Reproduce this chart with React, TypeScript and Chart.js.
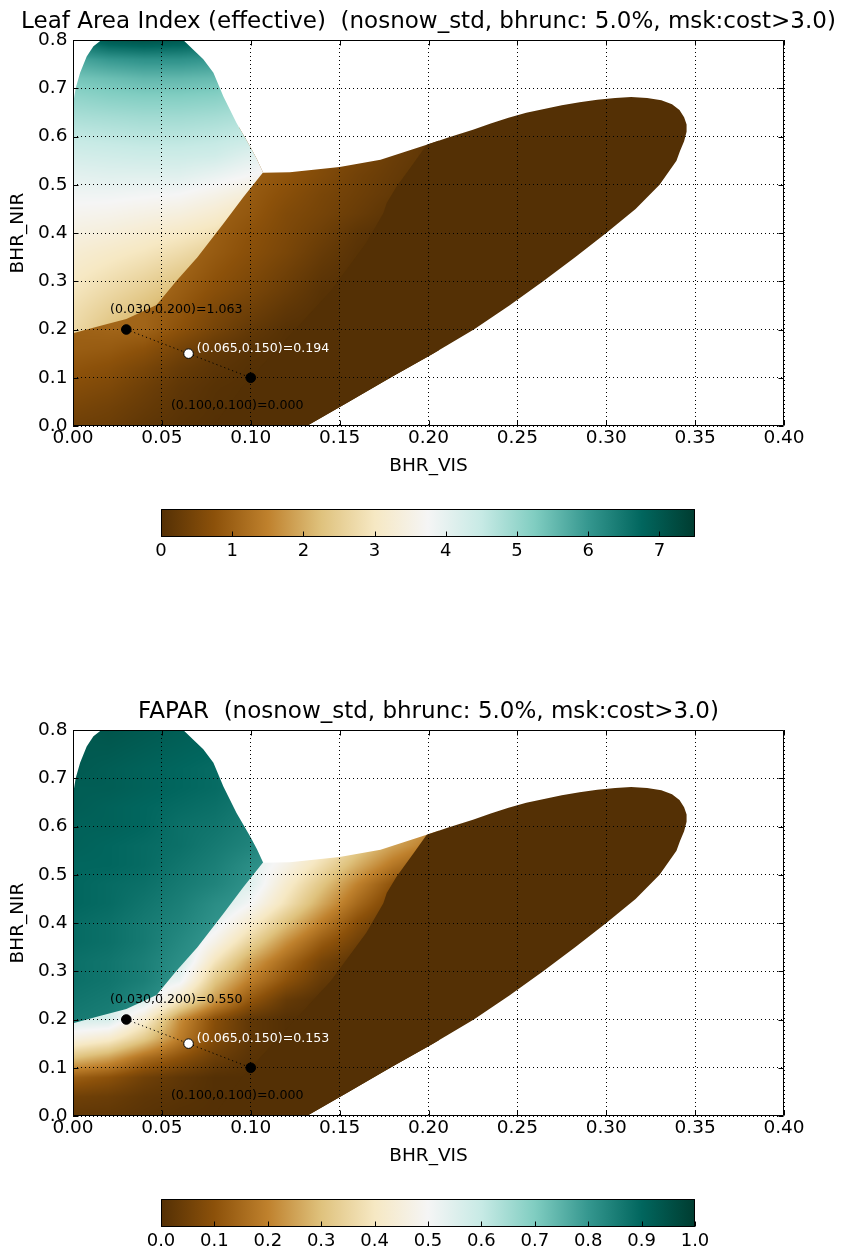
import React, { useEffect, useRef } from 'react';
import { Chart, registerables } from 'chart.js';

Chart.register(...registerables);

const FONT_FAMILY = '"DejaVu Sans", "Liberation Sans", Arial, sans-serif';
const _ = NaN;

// ---------------- axes / ticks ----------------
const X_TICKS = [0, 0.05, 0.1, 0.15, 0.2, 0.25, 0.3, 0.35, 0.4];
const Y_TICKS = [0, 0.1, 0.2, 0.3, 0.4, 0.5, 0.6, 0.7, 0.8];
const LAI_BAR_TICKS = [0, 1, 2, 3, 4, 5, 6, 7];
const FAPAR_BAR_TICKS = [0, 0.1, 0.2, 0.3, 0.4, 0.5, 0.6, 0.7, 0.8, 0.9, 1.0];

// ---------------- sample points ----------------
const SAMPLE_VIS = [0.03, 0.065, 0.1];
const SAMPLE_NIR = [0.2, 0.15, 0.1];
const LAI_AT_SAMPLES = [1.063, 0.194, 0.0];
const FAPAR_AT_SAMPLES = [0.55, 0.153, 0.0];

// ---------------- valid-retrieval region (BHR_VIS, BHR_NIR) ----------------
const MASK_OUTLINE: [number, number][] = [
  [-0.01, -0.01], [0.127, -0.01], [0.1315, 0.0], [0.155, 0.05], [0.1785, 0.1], [0.2025, 0.15],
  [0.2255, 0.2], [0.2455, 0.25], [0.2645, 0.3], [0.2825, 0.35], [0.3, 0.4], [0.3165, 0.45],
  [0.33, 0.5], [0.3395, 0.55], [0.3415, 0.57], [0.3438, 0.59], [0.3452, 0.61], [0.3452, 0.625],
  [0.3438, 0.64], [0.3412, 0.655], [0.337, 0.667], [0.331, 0.675], [0.323, 0.68], [0.314, 0.682],
  [0.305, 0.68], [0.295, 0.676], [0.285, 0.671], [0.275, 0.665], [0.265, 0.657], [0.255, 0.649],
  [0.245, 0.639], [0.235, 0.627], [0.225, 0.614], [0.212, 0.599], [0.199, 0.583], [0.173, 0.552],
  [0.15, 0.537], [0.122, 0.526], [0.107, 0.525], [0.1035, 0.553], [0.0996, 0.58], [0.092, 0.628],
  [0.0846, 0.683], [0.079, 0.732], [0.0733, 0.76], [0.0677, 0.78], [0.062, 0.8], [0.06, 0.82],
  [0.016, 0.82], [0.016, 0.8], [0.0115, 0.787], [0.0077, 0.766], [0.004, 0.732], [0.0015, 0.7],
  [0.0005, 0.677], [0.0, 0.66], [-0.01, 0.66],
];
// upper-left branch (above the discontinuity)
const UPPER_BRANCH_OUTLINE: [number, number][] = [
  [-0.01, 0.19], [0.0, 0.192], [0.015, 0.207], [0.03, 0.222], [0.047, 0.251], [0.058, 0.3],
  [0.07, 0.35], [0.085, 0.421], [0.096, 0.475], [0.107, 0.526], [0.107, 0.9], [-0.01, 0.9],
];
// right part where the retrieval saturates at zero
const ZERO_BRANCH_OUTLINE: [number, number][] = [
  [0.204, 0.64], [0.199, 0.583], [0.1915, 0.544], [0.182, 0.496], [0.1765, 0.462], [0.1746, 0.441],
  [0.165, 0.38], [0.145, 0.28], [0.12, 0.18], [0.095, 0.08], [0.075, -0.02], [0.5, -0.02],
  [0.5, 0.9], [0.204, 0.9],
];

// ---------------- field samples ----------------
const UPPER_GRID_VIS = [0, 0.02, 0.04, 0.06, 0.08, 0.1, 0.12];
const UPPER_GRID_NIR = [0.8, 0.76, 0.72, 0.68, 0.64, 0.6, 0.56, 0.52, 0.48, 0.44, 0.4, 0.36, 0.32, 0.28, 0.24, 0.2, 0.16];
const LOWER_GRID_VIS = [0, 0.02, 0.04, 0.06, 0.08, 0.1, 0.12, 0.14, 0.16, 0.18, 0.2];
const LOWER_GRID_NIR = [0.6, 0.56, 0.52, 0.48, 0.44, 0.4, 0.36, 0.32, 0.28, 0.24, 0.2, 0.16, 0.12, 0.08, 0.04, 0.0];

const LAI_UPPER = [
  [6.6, 7.0, 7.1, 7.0, 6.8, _, _],
  [5.8, 6.0, 6.1, 6.1, 6.0, 5.8, _],
  [5.35, 5.45, 5.55, 5.55, 5.5, 5.3, _],
  [5.05, 5.15, 5.2, 5.2, 5.15, 5.0, 4.8],
  [4.8, 4.85, 4.9, 4.9, 4.85, 4.75, 4.6],
  [4.55, 4.6, 4.65, 4.65, 4.6, 4.5, 4.35],
  [4.3, 4.35, 4.4, 4.4, 4.35, 4.1, 4.0],
  [4.05, 4.1, 4.1, 4.1, 3.95, 3.75, 3.5],
  [3.85, 3.85, 3.8, 3.75, 3.55, 3.3, 3.0],
  [3.65, 3.6, 3.5, 3.4, 3.2, 2.9, 2.6],
  [3.45, 3.35, 3.2, 3.05, 2.85, 2.5, _],
  [3.25, 3.1, 2.95, 2.75, 2.5, 2.2, _],
  [3.1, 2.9, 2.7, 2.45, 2.2, _, _],
  [2.95, 2.7, 2.45, 2.15, 1.9, _, _],
  [2.8, 2.5, 2.2, 1.9, _, _, _],
  [2.7, 2.3, 1.9, _, _, _, _],
  [2.6, 2.2, _, _, _, _, _],
];
const LAI_LOWER = [
  [_, _, _, _, _, _, 0.8, 0.6, 0.45, 0.3, 0.15],
  [_, _, _, _, _, 1.0, 0.85, 0.65, 0.5, 0.3, 0.15],
  [_, _, _, _, 1.05, 0.95, 0.8, 0.6, 0.4, 0.25, 0.1],
  [_, _, _, _, 1.05, 0.9, 0.7, 0.5, 0.35, 0.2, 0.05],
  [_, _, _, 1.1, 1.0, 0.85, 0.6, 0.45, 0.28, 0.1, 0],
  [_, _, _, 1.15, 0.95, 0.75, 0.55, 0.35, 0.12, 0, 0],
  [_, _, _, 1.1, 0.9, 0.7, 0.5, 0.25, 0.06, 0, 0],
  [_, _, 1.2, 1.05, 0.8, 0.6, 0.38, 0.15, 0.02, 0, 0],
  [_, _, 1.2, 0.95, 0.7, 0.5, 0.28, 0.06, 0, 0, 0],
  [_, 1.15, 1.05, 0.85, 0.55, 0.35, 0.15, 0.02, 0, 0, 0],
  [1.0, 1.05, 1.05, 0.75, 0.45, 0.2, 0.03, 0, 0, 0, 0],
  [0.95, 0.9, 0.75, 0.45, 0.2, 0.06, 0, 0, 0, 0, 0],
  [0.8, 0.7, 0.5, 0.25, 0.1, 0.02, 0, 0, 0, 0, 0],
  [0.65, 0.55, 0.35, 0.15, 0.04, 0, 0, 0, 0, 0, 0],
  [0.5, 0.4, 0.25, 0.1, 0.02, 0, 0, 0, 0, 0, 0],
  [0.35, 0.3, 0.15, 0.05, 0, 0, 0, 0, 0, 0, 0],
];
const FAPAR_UPPER = [
  [0.93, 0.94, 0.93, 0.92, 0.91, _, _],
  [0.93, 0.93, 0.92, 0.91, 0.9, 0.89, _],
  [0.93, 0.92, 0.91, 0.9, 0.89, 0.88, _],
  [0.92, 0.92, 0.91, 0.9, 0.89, 0.87, 0.85],
  [0.92, 0.91, 0.9, 0.89, 0.88, 0.86, 0.84],
  [0.91, 0.91, 0.9, 0.88, 0.87, 0.85, 0.83],
  [0.91, 0.9, 0.89, 0.88, 0.86, 0.84, 0.82],
  [0.9, 0.9, 0.89, 0.87, 0.85, 0.82, 0.8],
  [0.9, 0.89, 0.88, 0.86, 0.84, 0.81, 0.79],
  [0.9, 0.89, 0.87, 0.85, 0.82, 0.8, 0.78],
  [0.89, 0.88, 0.86, 0.84, 0.81, 0.79, _],
  [0.89, 0.88, 0.86, 0.83, 0.8, 0.78, _],
  [0.88, 0.87, 0.85, 0.82, 0.8, _, _],
  [0.88, 0.87, 0.85, 0.81, 0.79, _, _],
  [0.87, 0.86, 0.83, 0.8, _, _, _],
  [0.86, 0.85, 0.82, _, _, _, _],
  [0.86, 0.85, _, _, _, _, _],
];
const FAPAR_LOWER = [
  [_, _, _, _, _, _, 0.52, 0.46, 0.38, 0.3, 0.23],
  [_, _, _, _, _, 0.56, 0.5, 0.43, 0.33, 0.25, 0.19],
  [_, _, _, _, 0.56, 0.55, 0.47, 0.37, 0.27, 0.18, 0.11],
  [_, _, _, _, 0.58, 0.55, 0.42, 0.31, 0.2, 0.1, 0.04],
  [_, _, _, 0.58, 0.58, 0.5, 0.38, 0.26, 0.15, 0.06, 0],
  [_, _, _, 0.58, 0.53, 0.42, 0.3, 0.19, 0.09, 0.02, 0],
  [_, _, _, 0.58, 0.47, 0.34, 0.22, 0.12, 0.05, 0, 0],
  [_, _, 0.58, 0.58, 0.39, 0.25, 0.15, 0.06, 0.01, 0, 0],
  [_, _, 0.56, 0.52, 0.31, 0.19, 0.1, 0.03, 0, 0, 0],
  [_, 0.56, 0.56, 0.4, 0.24, 0.11, 0.03, 0, 0, 0, 0],
  [0.57, 0.57, 0.43, 0.22, 0.09, 0.02, 0, 0, 0, 0, 0],
  [0.46, 0.42, 0.32, 0.19, 0.08, 0.02, 0, 0, 0, 0, 0],
  [0.3, 0.25, 0.16, 0.1, 0.04, 0.01, 0, 0, 0, 0, 0],
  [0.13, 0.1, 0.05, 0.02, 0, 0, 0, 0, 0, 0, 0],
  [0.05, 0.04, 0.02, 0.01, 0, 0, 0, 0, 0, 0, 0],
  [0.02, 0.02, 0.01, 0, 0, 0, 0, 0, 0, 0, 0],
];

// ---------------- styling ----------------
const BRBG: [number, number, number][] = [
  [84, 48, 5], [140, 81, 10], [191, 129, 45], [223, 194, 125], [246, 232, 195], [245, 245, 245],
  [199, 234, 229], [128, 205, 193], [53, 151, 143], [1, 102, 94], [0, 60, 48],
];
const SAMPLE_FILL = ['#000000', '#ffffff', '#000000'];
const SAMPLE_TEXT = ['#000000', '#ffffff', '#000000'];
const SAMPLE_TEXT_OFFSET: [number, number][] = [[-16.3, -19.5], [8.2, -4.6], [-79.8, 28]];
const TICK_FONT = 18.5;
const INNER_TICK = 5;

function cmap(t: number): [number, number, number] {
  const c = Math.min(1, Math.max(0, t)) * (BRBG.length - 1);
  const i = Math.min(Math.floor(c), BRBG.length - 2);
  const f = c - i;
  const a = BRBG[i];
  const b = BRBG[i + 1];
  return [a[0] + (b[0] - a[0]) * f, a[1] + (b[1] - a[1]) * f, a[2] + (b[2] - a[2]) * f];
}

function sampleGrid(rows: number[][], gx: number[], gy: number[], x: number, y: number): number {
  const nx = gx.length;
  const ny = gy.length;
  let fx = (x - gx[0]) / (gx[1] - gx[0]);
  fx = Math.max(0, Math.min(nx - 1, fx));
  const i = Math.min(Math.floor(fx), nx - 2);
  const tx = fx - i;
  let fy = (y - gy[0]) / (gy[1] - gy[0]);
  fy = Math.max(0, Math.min(ny - 1, fy));
  const j = Math.min(Math.floor(fy), ny - 2);
  const ty = fy - j;
  const vals = [rows[j][i], rows[j][i + 1], rows[j + 1][i], rows[j + 1][i + 1]];
  const wts = [(1 - tx) * (1 - ty), tx * (1 - ty), (1 - tx) * ty, tx * ty];
  let s = 0, w = 0, s2 = 0, n = 0;
  for (let k = 0; k < 4; k++) {
    if (!isNaN(vals[k])) {
      s += vals[k] * wts[k];
      w += wts[k];
      s2 += vals[k];
      n++;
    }
  }
  if (w > 1e-6) return s / w;
  if (n > 0) return s2 / n;
  let best = NaN;
  let bd = Infinity;
  for (let jj = 0; jj < ny; jj++) {
    for (let ii = 0; ii < nx; ii++) {
      const v = rows[jj][ii];
      if (isNaN(v)) continue;
      const d = (ii - fx) * (ii - fx) + (jj - fy) * (jj - fy);
      if (d < bd) { bd = d; best = v; }
    }
  }
  return best;
}

function tracePoly(ctx: CanvasRenderingContext2D, xs: any, ys: any, pts: [number, number][]) {
  ctx.beginPath();
  pts.forEach(([vx, vy], k) => {
    const px = xs.getPixelForValue(vx);
    const py = ys.getPixelForValue(vy);
    if (k === 0) ctx.moveTo(px, py); else ctx.lineTo(px, py);
  });
  ctx.closePath();
}

function renderLayer(chart: any, rows: number[][], gx: number[], gy: number[], vmax: number) {
  const { chartArea: a, scales } = chart;
  const xs = scales.x;
  const ys = scales.y;
  const left = Math.floor(a.left);
  const top = Math.floor(a.top);
  const w = Math.ceil(a.right) - left;
  const h = Math.ceil(a.bottom) - top;
  const off = document.createElement('canvas');
  off.width = w;
  off.height = h;
  const octx = off.getContext('2d')!;
  const img = octx.createImageData(w, h);
  const xmin = Math.min(gx[0], gx[gx.length - 1]) - 0.006;
  const xmax = Math.max(gx[0], gx[gx.length - 1]) + 0.006;
  const ymin = Math.min(gy[0], gy[gy.length - 1]) - 0.02;
  const ymax = Math.max(gy[0], gy[gy.length - 1]) + 0.02;
  const xv = new Float64Array(w);
  for (let i = 0; i < w; i++) xv[i] = xs.getValueForPixel(left + i + 0.5);
  for (let j = 0; j < h; j++) {
    const yv = ys.getValueForPixel(top + j + 0.5);
    if (yv < ymin || yv > ymax) continue;
    for (let i = 0; i < w; i++) {
      if (xv[i] < xmin || xv[i] > xmax) continue;
      const v = sampleGrid(rows, gx, gy, xv[i], yv);
      if (isNaN(v)) continue;
      const [r, g, b] = cmap(v / vmax);
      const o = (j * w + i) * 4;
      img.data[o] = r;
      img.data[o + 1] = g;
      img.data[o + 2] = b;
      img.data[o + 3] = 255;
    }
  }
  octx.putImageData(img, 0, 0);
  return { off, left, top };
}

function fieldPlugin(p: any) {
  return {
    id: 'retrievalField',
    beforeDraw(chart: any) {
      const { ctx, chartArea: a, scales } = chart;
      const xs = scales.x;
      const ys = scales.y;
      const lower = renderLayer(chart, p.lower, LOWER_GRID_VIS, LOWER_GRID_NIR, p.vmax);
      const upper = renderLayer(chart, p.upper, UPPER_GRID_VIS, UPPER_GRID_NIR, p.vmax);
      ctx.save();
      ctx.beginPath();
      ctx.rect(a.left, a.top, a.right - a.left, a.bottom - a.top);
      ctx.clip();
      tracePoly(ctx, xs, ys, MASK_OUTLINE);
      ctx.clip();
      ctx.drawImage(lower.off, lower.left, lower.top);
      ctx.save();
      tracePoly(ctx, xs, ys, UPPER_BRANCH_OUTLINE);
      ctx.clip();
      ctx.drawImage(upper.off, upper.left, upper.top);
      ctx.restore();
      ctx.save();
      tracePoly(ctx, xs, ys, ZERO_BRANCH_OUTLINE);
      ctx.clip();
      const z = cmap(0);
      ctx.fillStyle = `rgb(${z[0]},${z[1]},${z[2]})`;
      ctx.fillRect(a.left, a.top, a.right - a.left, a.bottom - a.top);
      ctx.restore();
      ctx.restore();
    },
  };
}

const framePlugin = {
  id: 'axesFrame',
  beforeDatasetsDraw(chart: any) {
    const { ctx, chartArea: a, scales } = chart;
    const xs = scales.x;
    const ys = scales.y;
    const L = a.left + 0.5, R = a.right - 0.5, T = a.top + 0.5, B = a.bottom - 0.5;
    ctx.save();
    ctx.setLineDash([]);
    ctx.strokeStyle = '#000';
    ctx.lineWidth = 1;
    ctx.beginPath();
    ctx.rect(L, T, R - L, B - T);
    X_TICKS.forEach((v) => {
      const px = Math.round(xs.getPixelForValue(v)) + 0.5;
      ctx.moveTo(px, B); ctx.lineTo(px, B - INNER_TICK);
      ctx.moveTo(px, T); ctx.lineTo(px, T + INNER_TICK);
    });
    Y_TICKS.forEach((v) => {
      const py = Math.round(ys.getPixelForValue(v)) + 0.5;
      ctx.moveTo(L, py); ctx.lineTo(L + INNER_TICK, py);
      ctx.moveTo(R, py); ctx.lineTo(R - INNER_TICK, py);
    });
    ctx.stroke();
    ctx.restore();
  },
};

function labelPlugin(labels: string[]) {
  return {
    id: 'sampleLabels',
    afterDatasetsDraw(chart: any) {
      const { ctx, scales } = chart;
      ctx.save();
      ctx.font = `12.6px ${FONT_FAMILY}`;
      ctx.textAlign = 'left';
      ctx.textBaseline = 'middle';
      labels.forEach((t, i) => {
        const px = scales.x.getPixelForValue(SAMPLE_VIS[i]);
        const py = scales.y.getPixelForValue(SAMPLE_NIR[i]);
        ctx.fillStyle = SAMPLE_TEXT[i];
        ctx.fillText(t, px + SAMPLE_TEXT_OFFSET[i][0], py + SAMPLE_TEXT_OFFSET[i][1]);
      });
      ctx.restore();
    },
  };
}

function titlePlugin(title: string) {
  return {
    id: 'panelTitle',
    afterDraw(chart: any) {
      const { ctx, chartArea: a } = chart;
      ctx.save();
      ctx.font = `23px ${FONT_FAMILY}`;
      ctx.fillStyle = '#000';
      ctx.textAlign = 'center';
      ctx.textBaseline = 'middle';
      ctx.fillText(title, (a.left + a.right) / 2, 22);
      ctx.restore();
    },
  };
}

const MAIN_H = 490;
const BAR_H = 80;

function buildMainConfig(p: any): any {
  const labels = SAMPLE_VIS.map(
    (x, i) => `(${x.toFixed(3)},${SAMPLE_NIR[i].toFixed(3)})=${p.values[i].toFixed(3)}`
  );
  const tickFont = { family: FONT_FAMILY, size: TICK_FONT };
  return {
    type: 'scatter',
    data: {
      datasets: [
        {
          data: SAMPLE_VIS.map((x, i) => ({ x, y: SAMPLE_NIR[i] })),
          showLine: true,
          borderColor: '#000',
          borderWidth: 1,
          borderDash: [1.2, 3],
          pointRadius: 4.8,
          pointHoverRadius: 4.8,
          pointBorderWidth: 1,
          pointBorderColor: '#000',
          pointBackgroundColor: SAMPLE_FILL,
          clip: false,
        },
      ],
    },
    options: {
      responsive: false,
      animation: false,
      devicePixelRatio: 1,
      events: [],
      layout: { padding: { top: 40, right: 57, bottom: 0, left: 0 } },
      plugins: { legend: { display: false }, tooltip: { enabled: false }, title: { display: false } },
      scales: {
        x: {
          type: 'linear',
          min: 0,
          max: 0.4,
          afterBuildTicks: (s: any) => { s.ticks = X_TICKS.map((value) => ({ value })); },
          afterFit: (s: any) => { s.height = MAIN_H - 426; },
          ticks: {
            callback: (v: any) => Number(v).toFixed(2),
            font: tickFont,
            color: '#000',
            padding: 1.5,
            maxRotation: 0,
            autoSkip: false,
          },
          grid: { color: '#000', lineWidth: 1, drawTicks: false },
          border: { display: false, dash: [1, 3] },
          title: {
            display: true,
            text: 'BHR_VIS',
            color: '#000',
            font: tickFont,
            padding: { top: 0, bottom: 12.9 },
          },
        },
        y: {
          type: 'linear',
          min: 0,
          max: 0.8,
          afterBuildTicks: (s: any) => { s.ticks = Y_TICKS.map((value) => ({ value })); },
          afterFit: (s: any) => { s.width = 73; },
          ticks: {
            callback: (v: any) => Number(v).toFixed(1),
            font: tickFont,
            color: '#000',
            padding: 5.5,
            autoSkip: false,
          },
          grid: { color: '#000', lineWidth: 1, drawTicks: false },
          border: { display: false, dash: [1, 3] },
          title: {
            display: true,
            text: 'BHR_NIR',
            color: '#000',
            font: tickFont,
            padding: { top: 7.2, bottom: 0 },
          },
        },
      },
    },
    plugins: [fieldPlugin(p), framePlugin, labelPlugin(labels), titlePlugin(p.title)],
  };
}

function colorbarPlugin() {
  return {
    id: 'colorbar',
    beforeDatasetsDraw(chart: any) {
      const { ctx, chartArea: a, scales } = chart;
      const g = ctx.createLinearGradient(a.left, 0, a.right, 0);
      BRBG.forEach((c, k) => g.addColorStop(k / (BRBG.length - 1), `rgb(${c[0]},${c[1]},${c[2]})`));
      ctx.save();
      ctx.fillStyle = g;
      ctx.fillRect(a.left, a.top, a.right - a.left, a.bottom - a.top);
      ctx.strokeStyle = '#000';
      ctx.lineWidth = 1;
      ctx.beginPath();
      ctx.rect(a.left + 0.5, a.top + 0.5, a.right - a.left - 1, a.bottom - a.top - 1);
      scales.x.ticks.forEach((t: any) => {
        const px = Math.round(scales.x.getPixelForValue(t.value)) + 0.5;
        ctx.moveTo(px, a.bottom - 0.5);
        ctx.lineTo(px, a.bottom - 0.5 - INNER_TICK);
      });
      ctx.stroke();
      ctx.restore();
    },
  };
}

function buildBarConfig(p: any): any {
  return {
    type: 'scatter',
    data: { datasets: [] },
    options: {
      responsive: false,
      animation: false,
      devicePixelRatio: 1,
      events: [],
      layout: { padding: { top: 19, right: 146, bottom: 0, left: 161 } },
      plugins: { legend: { display: false }, tooltip: { enabled: false } },
      scales: {
        x: {
          type: 'linear',
          min: 0,
          max: p.vmax,
          afterBuildTicks: (s: any) => { s.ticks = p.barTicks.map((value: number) => ({ value })); },
          afterFit: (s: any) => { s.height = BAR_H - 19 - 28; },
          ticks: {
            callback: (v: any) => Number(v).toFixed(p.barDigits),
            font: { family: FONT_FAMILY, size: 18 },
            color: '#000',
            padding: 3.5,
            maxRotation: 0,
            autoSkip: false,
          },
          grid: { display: false, drawTicks: false },
          border: { display: false },
        },
        y: { display: false, min: 0, max: 1 },
      },
    },
    plugins: [colorbarPlugin()],
  };
}

const PANELS = [
  {
    key: 'lai',
    top: 0,
    title: 'Leaf Area Index (effective)  (nosnow_std, bhrunc: 5.0%, msk:cost>3.0)',
    upper: LAI_UPPER,
    lower: LAI_LOWER,
    vmax: 7.5,
    values: LAI_AT_SAMPLES,
    barTicks: LAI_BAR_TICKS,
    barDigits: 0,
  },
  {
    key: 'fapar',
    top: 690,
    title: 'FAPAR  (nosnow_std, bhrunc: 5.0%, msk:cost>3.0)',
    upper: FAPAR_UPPER,
    lower: FAPAR_LOWER,
    vmax: 1.0,
    values: FAPAR_AT_SAMPLES,
    barTicks: FAPAR_BAR_TICKS,
    barDigits: 1,
  },
];

function Panel({ p }: { p: any }) {
  const mainRef = useRef<HTMLCanvasElement>(null);
  const barRef = useRef<HTMLCanvasElement>(null);
  useEffect(() => {
    const main = new Chart(mainRef.current!, buildMainConfig(p));
    const bar = new Chart(barRef.current!, buildBarConfig(p));
    return () => {
      main.destroy();
      bar.destroy();
    };
  }, [p]);
  return (
    <>
      <canvas
        ref={mainRef}
        width={841}
        height={MAIN_H}
        style={{ position: 'absolute', left: 0, top: p.top, width: 841, height: MAIN_H }}
      />
      <canvas
        ref={barRef}
        width={841}
        height={BAR_H}
        style={{ position: 'absolute', left: 0, top: p.top + MAIN_H, width: 841, height: BAR_H }}
      />
    </>
  );
}

export default function App() {
  return (
    <div
      style={{
        position: 'absolute',
        left: 0,
        top: 0,
        width: 841,
        height: 1250,
        overflow: 'hidden',
        background: '#ffffff',
      }}
    >
      {PANELS.map((p) => (
        <Panel key={p.key} p={p} />
      ))}
    </div>
  );
}
